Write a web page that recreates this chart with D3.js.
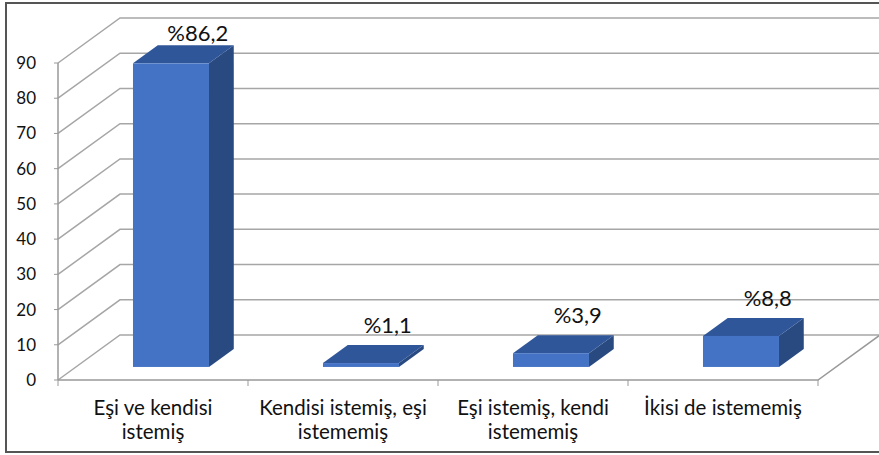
<!DOCTYPE html>
<html>
<head>
<meta charset="utf-8">
<script src="https://cdn.jsdelivr.net/npm/d3@7"></script>
<style>
  body { margin: 0; background: #fff; }
  text { font-family: Lato, 'Open Sans', sans-serif; fill: #111; }
</style>
</head>
<body>
<div id="chart"></div>
<script>
const categories = [
  ['Eşi ve kendisi', 'istemiş'],
  ['Kendisi istemiş, eşi', 'istememiş'],
  ['Eşi istemiş, kendi', 'istememiş'],
  ['İkisi de istememiş'],
];
const values = [86.2, 1.1, 3.9, 8.8];
const valueLabels = ['%86,2', '%1,1', '%3,9', '%8,8'];
const yTicks = [0, 10, 20, 30, 40, 50, 60, 70, 80, 90];

const makePlot = () => {
  const size = { width: 879, height: 455 };
  const svg = d3
    .select('#chart')
    .append('svg')
    .attr('width', size.width)
    .attr('height', size.height);

  // outer frame
  svg
    .append('rect')
    .attr('x', 6)
    .attr('y', 3)
    .attr('width', 880)
    .attr('height', 449)
    .attr('fill', 'white')
    .attr('stroke', '#555')
    .attr('stroke-width', 2);

  const keys = categories.map((c) => c.join(' '));
  const x = d3.scaleBand().domain(keys).range([58, 818]);
  const y = d3.scaleLinear().domain([0, 90]).range([380, 63]);

  // depth of the floor / back wall
  const depth = { dx: 62, dy: -45 };
  const front = { dx: depth.dx * 0.29, dy: depth.dy * 0.29 };
  const back = { dx: depth.dx * 0.69, dy: depth.dy * 0.69 };

  const grid = svg.append('g').attr('fill', 'none');

  // gridlines: diagonal on left wall + horizontal on back wall
  yTicks.forEach((t) => {
    const yy = y(t);
    grid
      .append('path')
      .attr(
        'd',
        `M${x.range()[0]},${yy}L${x.range()[0] + depth.dx},${yy + depth.dy}L${x.range()[1] + depth.dx},${yy + depth.dy}`,
      )
      .attr('stroke', '#a6a6a6')
      .attr('stroke-width', 1.5);
  });

  // floor edges
  grid
    .append('path')
    .attr(
      'd',
      `M${x.range()[0]},${y(0)}L${x.range()[1]},${y(0)}L${x.range()[1] + depth.dx},${y(0) + depth.dy}`,
    )
    .attr('stroke', '#999')
    .attr('stroke-width', 1.5);

  // y axis line + ticks
  grid
    .append('line')
    .attr('x1', x.range()[0])
    .attr('x2', x.range()[0])
    .attr('y1', y(90))
    .attr('y2', y(0))
    .attr('stroke', '#999')
    .attr('stroke-width', 1.5);

  yTicks.forEach((t) => {
    grid
      .append('line')
      .attr('x1', x.range()[0] - 4)
      .attr('x2', x.range()[0])
      .attr('y1', y(t))
      .attr('y2', y(t))
      .attr('stroke', '#999');
    svg
      .append('text')
      .attr('x', 36)
      .attr('y', y(t))
      .attr('dy', '0.35em')
      .attr('text-anchor', 'end')
      .style('font-size', '17px')
      .text(t);
  });

  // category ticks
  const bounds = keys.map((k) => x(k)).concat([x.range()[1]]);
  bounds.forEach((b) => {
    grid
      .append('line')
      .attr('x1', b)
      .attr('x2', b)
      .attr('y1', y(0))
      .attr('y2', y(0) + 6)
      .attr('stroke', '#999');
  });

  // bars
  const colors = { front: '#4472c4', top: '#30569a', side: '#294a80' };
  const bw = x.bandwidth() * 0.4;

  values.forEach((v, i) => {
    const x0 = x(keys[i]) + (x.bandwidth() - bw) / 2;
    const x1 = x0 + bw;
    const yT = y(v);
    const yB = y(0);
    const g = svg.append('g');

    g.append('path')
      .attr(
        'd',
        `M${x1 + front.dx},${yT + front.dy}L${x1 + back.dx},${yT + back.dy}L${x1 + back.dx},${yB + back.dy}L${x1 + front.dx},${yB + front.dy}Z`,
      )
      .attr('fill', colors.side);

    g.append('path')
      .attr(
        'd',
        `M${x0 + front.dx},${yT + front.dy}L${x1 + front.dx},${yT + front.dy}L${x1 + back.dx},${yT + back.dy}L${x0 + back.dx},${yT + back.dy}Z`,
      )
      .attr('fill', colors.top);

    g.append('rect')
      .attr('x', x0 + front.dx)
      .attr('y', yT + front.dy)
      .attr('width', bw)
      .attr('height', yB - yT)
      .attr('fill', colors.front);

    svg
      .append('text')
      .attr('x', (x0 + x1) / 2 + back.dx + 2)
      .attr('y', Math.max(yT + back.dy - 12, 41))
      .attr('text-anchor', 'middle')
      .style('font-size', '22px')
      .text(valueLabels[i]);
  });

  // category labels
  categories.forEach((lines, i) => {
    const t = svg
      .append('text')
      .attr('x', x(keys[i]) + x.bandwidth() / 2)
      .attr('y', 415)
      .attr('text-anchor', 'middle')
      .style('font-size', '20.5px');
    lines.forEach((l, j) => {
      t.append('tspan')
        .attr('x', x(keys[i]) + x.bandwidth() / 2)
        .attr('dy', j === 0 ? 0 : 24)
        .text(l);
    });
  });
};

makePlot();
</script>
</body>
</html>
